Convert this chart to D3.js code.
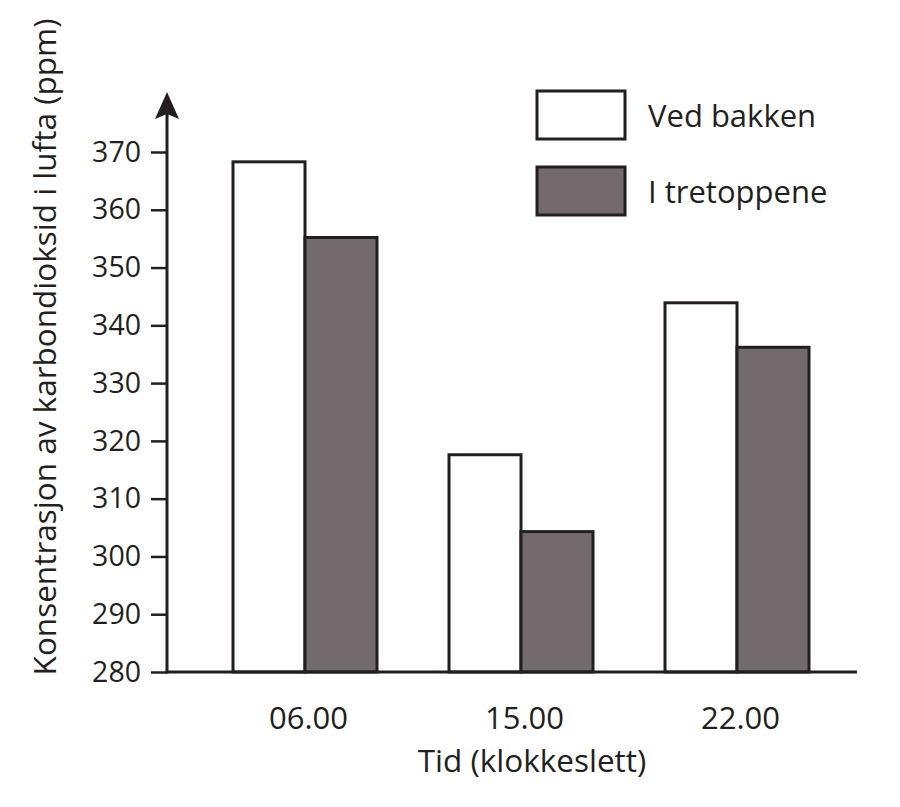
<!DOCTYPE html>
<html>
<head>
<meta charset="utf-8">
<script src="https://cdn.jsdelivr.net/npm/d3@7"></script>
<style>
  body { margin: 0; background: #fff; }
  text { font-family: "Open Sans", sans-serif; fill: #231f20; }
</style>
</head>
<body>
<div id="chart"></div>
<script>
// data
var times = ["06.00", "15.00", "22.00"];
var series = ["Ved bakken", "I tretoppene"];
var groundValues = [368.3, 317.6, 343.9];
var treetopValues = [355.2, 304.3, 336.2];
var yTicks = [280, 290, 300, 310, 320, 330, 340, 350, 360, 370];

var width = 900;
var height = 807;
var ink = "#231f20";
var colors = ["#ffffff", "#736a6e"];

var svg = d3.select("#chart")
  .append("svg")
  .attr("width", width)
  .attr("height", height);

// scales
var yScale = d3.scaleLinear()
  .domain([280, 370])
  .range([672, 152]);

var xScale = d3.scalePoint()
  .domain(times)
  .range([197, 845])
  .padding(0.5);

var sScale = d3.scaleBand()
  .domain(series)
  .range([-72, 72]);

// bars
var rows = times.map(function(t, i) {
  return { time: t, values: [groundValues[i], treetopValues[i]] };
});

var groups = svg.selectAll("g.group")
  .data(rows)
  .enter()
  .append("g")
  .attr("class", "group")
  .attr("transform", function(d) { return "translate(" + xScale(d.time) + ",0)"; });

groups.selectAll("rect")
  .data(function(d) { return d.values.map(function(v, j) { return { s: series[j], v: v, j: j }; }); })
  .enter()
  .append("rect")
  .attr("x", function(d) { return sScale(d.s); })
  .attr("width", sScale.bandwidth())
  .attr("y", function(d) { return yScale(d.v); })
  .attr("height", function(d) { return yScale(280) - yScale(d.v); })
  .attr("fill", function(d) { return colors[d.j]; })
  .attr("stroke", ink)
  .attr("stroke-width", 3);

// y axis
var yAxis = d3.axisLeft(yScale)
  .tickValues(yTicks)
  .tickSize(16)
  .tickPadding(10)
  .tickFormat(d3.format("d"));

var yG = svg.append("g")
  .attr("transform", "translate(167,0)")
  .call(yAxis);
yG.select(".domain").remove();
yG.selectAll(".tick line").attr("stroke", ink).attr("stroke-width", 2.5);
yG.selectAll(".tick text")
  .attr("font-size", 28.5)
  .attr("font-family", "Open Sans")
  .attr("fill", ink);

svg.append("line")
  .attr("x1", 167).attr("x2", 167)
  .attr("y1", 673.5).attr("y2", 112)
  .attr("stroke", ink)
  .attr("stroke-width", 3);

svg.append("path")
  .attr("d", "M167,92 L155,119 L167,114 L179,119 Z")
  .attr("fill", ink);

// x axis
var xAxis = d3.axisBottom(xScale).tickSize(0).tickPadding(35);
var xG = svg.append("g")
  .attr("transform", "translate(3,672)")
  .call(xAxis);
xG.select(".domain").remove();
xG.selectAll(".tick text")
  .attr("font-size", 31)
  .attr("font-family", "Open Sans")
  .attr("fill", ink);

svg.append("line")
  .attr("x1", 165.5).attr("x2", 857)
  .attr("y1", 672).attr("y2", 672)
  .attr("stroke", ink)
  .attr("stroke-width", 3);

// axis titles
svg.append("text")
  .attr("x", 532)
  .attr("y", 772)
  .attr("text-anchor", "middle")
  .attr("font-size", 31.5)
  .text("Tid (klokkeslett)");

svg.append("text")
  .attr("transform", "translate(56,347) rotate(-90)")
  .attr("text-anchor", "middle")
  .attr("font-size", 31.5)
  .text("Konsentrasjon av karbondioksid i lufta (ppm)");

// legend
var legend = svg.selectAll("g.legend")
  .data(series)
  .enter()
  .append("g")
  .attr("class", "legend")
  .attr("transform", function(d, i) { return "translate(537," + (91 + i * 76) + ")"; });

legend.append("rect")
  .attr("width", 88)
  .attr("height", 48)
  .attr("fill", function(d, i) { return colors[i]; })
  .attr("stroke", ink)
  .attr("stroke-width", 3);

legend.append("text")
  .attr("x", 111)
  .attr("y", 36)
  .attr("font-size", 31)
  .text(function(d) { return d; });
</script>
</body>
</html>
